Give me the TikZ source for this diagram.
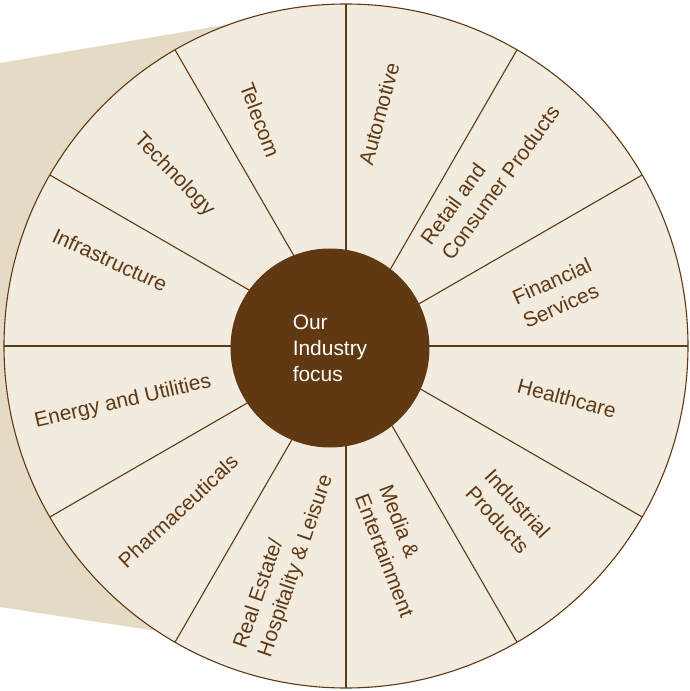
\documentclass[tikz,border=0pt]{standalone}
\usepackage{fontspec}
\setmainfont{Liberation Sans}
\definecolor{wheelbrown}{RGB}{96,57,19}
\definecolor{wheelcream}{RGB}{242,235,224}
\definecolor{wheelshade}{RGB}{229,218,196}

\begin{document}
\begin{tikzpicture}[
  x=1bp,y=1bp,
  spoke/.style={draw=wheelbrown,line width=1.1bp},
  sector/.style={text=wheelbrown,font=\fontsize{21}{26}\selectfont,inner sep=0pt},
  twoline/.style={sector,align=left},
  hub/.style={circle,fill=wheelbrown,minimum size=199bp,inner sep=0pt,text=white,align=left,font=\fontsize{21}{26}\selectfont}
]
\useasboundingbox (-346,-345) rectangle (344,346);

% shade behind the wheel
\fill[wheelshade] (-346,283) -- (-80,328) -- (0,0) -- (-150,-291) -- (-346,-261) -- cycle;

% wheel and spokes
\draw[spoke,fill=wheelcream] (0,0) circle (342);
\draw[spoke] (0:342) -- (180:342);
\draw[spoke] (30:342) -- (210:342);
\draw[spoke] (60:342) -- (240:342);
\draw[spoke] (90:342) -- (270:342);
\draw[spoke] (120:342) -- (300:342);
\draw[spoke] (150:342) -- (330:342);

\node[hub] (hub) at (-16,-2) {Our\\Industry\\focus};

% sector labels
\node[sector,rotate=75] (auto) at (33,232) {Automotive};
\node[twoline,rotate=54] (retail) at (144,171) {Retail and\\Consumer Products};
\node[twoline,rotate=24] (finance) at (211,53) {Financial\\Services};
\node[sector,rotate=-15] (health) at (221,-52) {Healthcare};
\node[twoline,rotate=-47.5] (indus) at (162,-166) {Industrial\\Products};
\node[twoline,rotate=-69] (media) at (51,-205) {Media \&\\Entertainment};
\node[twoline,rotate=71] (estate) at (-62,-216) {Real Estate/\\Hospitality \& Leisure};
\node[sector,rotate=43] (pharma) at (-168,-165) {Pharmaceuticals};
\node[sector,rotate=13] (energy) at (-223,-56) {Energy and Utilities};
\node[sector,rotate=-24.6] (infra) at (-236,86) {Infrastructure};
\node[sector,rotate=-46] (tech) at (-172,171) {Technology};
\node[sector,rotate=-69.5] (telecom) at (-86,226) {Telecom};
\end{tikzpicture}
\end{document}
